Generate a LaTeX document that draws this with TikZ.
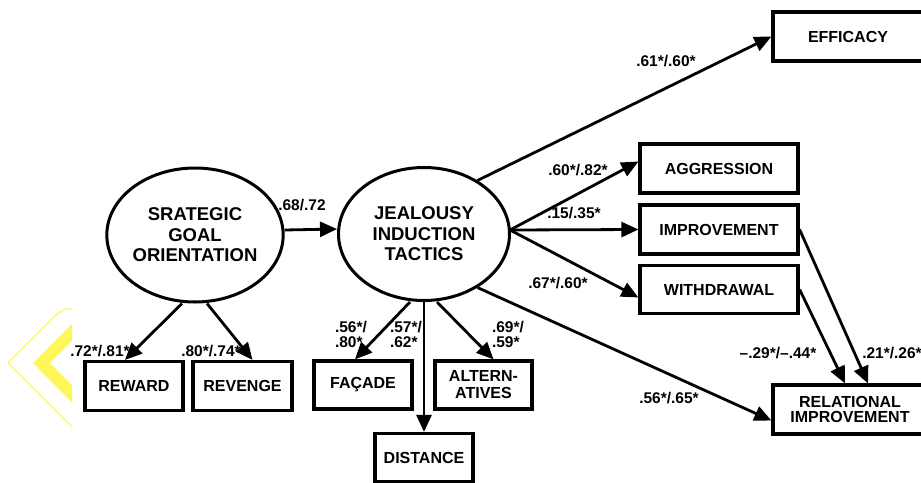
\documentclass[tikz,border=0pt]{standalone}
\usepackage{fontspec}
\setmainfont{Liberation Sans}
\usetikzlibrary{arrows.meta,shapes.geometric}
\definecolor{chevyellow}{RGB}{255,247,90}
\tikzset{
    latent/.style={draw,ellipse,line width=3pt,minimum width=170pt,minimum height=134pt,inner sep=0pt,align=center,font=\fontsize{18.5}{20.5}\selectfont\bfseries},
    obs/.style={draw,rectangle,line width=3.2pt,minimum height=49pt,inner sep=0pt,align=center,font=\fontsize{16}{14.5}\selectfont\bfseries},
    coef/.style={inner sep=0pt,align=left,font=\fontsize{15.5}{15}\selectfont\bfseries},
    path/.style={line width=2.8pt,-{Triangle[length=17pt,width=15pt]}}
}

\begin{document}
\begin{tikzpicture}[x=1pt,y=-1pt]
    \clip (0,0) rectangle (921,482);
    \begin{scope}
        \clip (0,290) rectangle (72,440);
        \draw[chevyellow,line width=12pt,miter limit=10] (95,309) -- (41.5,363) -- (95,417);
        \draw[chevyellow,line width=1.3pt] (72,309) .. controls (64,309) .. (56,315) -- (8,363) -- (72,427);
    \end{scope}
    \node[latent] (sgo) at (195,235) {SRATEGIC\\GOAL\\ORIENTATION};
    \node[latent,minimum width=171pt,minimum height=133pt] (jit) at (424,234) {JEALOUSY\\INDUCTION\\TACTICS};
    \node[obs,minimum width=150pt] (eff) at (848,36.5) {EFFICACY};
    \node[obs,minimum width=158pt] (agg) at (719,168.5) {AGGRESSION};
    \node[obs,minimum width=158pt] (imp) at (719,229.5) {IMPROVEMENT};
    \node[obs,minimum width=158pt,minimum height=48pt] (wd) at (719,289.5) {WITHDRAWAL};
    \node[obs,minimum width=154pt] (rel) at (850,409.5) {RELATIONAL\\IMPROVEMENT};
    \node[obs,minimum width=98pt] (rew) at (134,386) {REWARD};
    \node[obs,minimum width=99pt] (rev) at (242.5,386) {REVENGE};
    \node[obs,minimum width=98pt,minimum height=48pt] (fac) at (363,385) {FAÇADE};
    \node[obs,minimum width=97pt,minimum height=48pt,font=\fontsize{16}{17}\selectfont\bfseries] (alt) at (483.5,385) {ALTERN-\\ATIVES};
    \node[obs,minimum width=98pt,minimum height=48pt] (dis) at (424,457.5) {DISTANCE};
    \coordinate (jr) at (510,230);

    \draw[path] ([yshift=5pt]sgo.east) -- ([yshift=5pt]jit.west);
    \draw[path] ([xshift=-13pt]sgo.south) -- ([xshift=-9pt]rew.north);
    \draw[path] ([xshift=12pt]sgo.south) -- ([xshift=10pt]rev.north);
    \draw[path] ([xshift=-14pt]jit.south) -- ([xshift=-8pt]fac.north);
    \draw[path] (jit.south) -- (dis.north);
    \draw[path] ([xshift=13pt]jit.south) -- ([xshift=10pt]alt.north);
    \draw[path] (jit.45) -- (eff.west);
    \draw[path] (jr) -- ([yshift=7pt]agg.west);
    \draw[path] (jr) -- (imp.west);
    \draw[path] (jr) -- ([yshift=-8pt]wd.west);
    \draw[path] (jit.-45) -- ([yshift=-11pt]rel.west);
    \draw[path] (wd.east) -- ([xshift=-5pt]rel.north);
    \draw[path] (imp.east) -- ([xshift=18pt]rel.north);

    \node[coef] (c68) at (302,205) {.68/.72};
    \node[coef] (c72) at (100,351) {.72*/.81*};
    \node[coef] (c80) at (211,351) {.80*/.74*};
    \node[coef] (c56) at (351,334.5) {.56*/\\.80*};
    \node[coef] (c57) at (406,334.5) {.57*/\\.62*};
    \node[coef] (c69) at (508,334.5) {.69*/\\.59*};
    \node[coef] (c61) at (666,61) {.61*/.60*};
    \node[coef] (c60) at (578,170) {.60*/.82*};
    \node[coef] (c15) at (574,213) {.15/.35*};
    \node[coef] (c67) at (558,283) {.67*/.60*};
    \node[coef] (c65) at (669,398) {.56*/.65*};
    \node[coef] (c29) at (778,353) {–.29*/–.44*};
    \node[coef] (c21) at (892,353) {.21*/.26*};
\end{tikzpicture}
\end{document}
